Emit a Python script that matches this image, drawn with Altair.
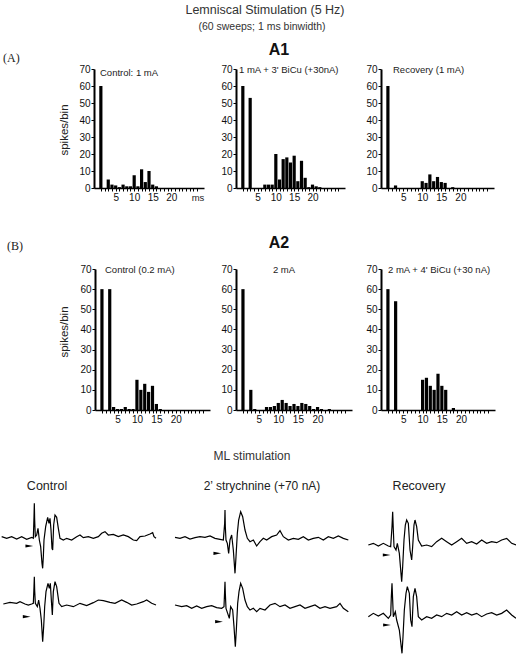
import altair as alt
import pandas as pd

W, H = 516, 655
FONT = "Liberation Sans"

# ---------------- histogram data (spikes per 1-ms bin) ----------------
bins = list(range(1, 28))
a1_control = [60, 0, 5, 2, 1.5, 0.5, 2, 1, 1, 7.5, 1, 11, 3.5, 10, 2, 1, 0, 0, 0, 0, 0, 0, 0, 0, 0, 0, 0]
a1_bicu = [60, 0, 53, 0, 0, 0, 2, 2, 2, 20, 5, 17, 18, 15, 19, 4, 16, 6, 0.5, 2, 1, 0.5, 0, 0, 0, 0, 0]
a1_recovery = [60, 0, 1.5, 0, 0, 0, 0, 0, 0, 4, 3, 8, 4, 6.5, 3.5, 3, 0, 0.5, 0, 0, 0, 0, 0, 0, 0, 0, 0]
a2_control = [60, 0, 60, 1.5, 0.5, 0.5, 1.5, 0.5, 0.5, 15, 10, 13, 9, 12, 3, 0.5, 0, 0, 0, 0, 0, 0, 0, 0, 0, 0, 0]
a2_2ma = [60, 0, 10, 0.5, 0, 0, 1.5, 1.5, 2, 3.5, 5, 3.5, 2, 3, 2, 3.5, 3, 2, 0.5, 1.5, 0.5, 0, 0.5, 0, 0, 0, 0]
a2_bicu = [60, 0, 54, 0, 0, 0, 0, 0, 0, 15, 16, 12, 10, 18, 12, 10, 0, 1, 0, 0, 0, 0, 0, 0, 0, 0, 0]
y_ticks = [0, 10, 20, 30, 40, 50, 60, 70]
x_labels = [5, 10, 15, 20]

# ---------------- ML-stimulation traces (digitised samples) ----------------
# time in samples (30 per ms), deflection readings (down = larger)
ctrl_top_t = [5, 20, 35, 50, 65, 80, 95, 100, 102, 103, 104, 106, 110, 114, 118, 122, 126, 128, 130, 132, 137, 143, 147, 150, 153, 156, 158, 161, 165, 170, 175, 180, 190, 200, 215, 230, 240, 250, 265, 280, 295, 305, 315, 325, 340, 355, 370, 385, 400, 410, 420, 435, 450, 458, 462, 468]
ctrl_top_v = [290, 295, 290, 297, 290, 298, 292, 295, 230, 190, 240, 290, 285, 265, 300, 320, 370, 385, 350, 300, 260, 232, 250, 235, 270, 325, 330, 255, 225, 232, 265, 295, 300, 295, 300, 290, 285, 293, 290, 295, 290, 280, 275, 285, 283, 290, 285, 290, 300, 302, 290, 288, 282, 278, 290, 295]
ctrl_bot_t = [10, 30, 50, 60, 75, 85, 95, 100, 102, 103, 104, 106, 112, 116, 120, 124, 128, 131, 134, 138, 144, 148, 151, 154, 157, 160, 165, 170, 177, 185, 200, 220, 240, 260, 280, 295, 310, 330, 345, 365, 380, 395, 410, 430, 440, 455, 468]
ctrl_bot_v = [492, 487, 490, 485, 492, 495, 492, 490, 440, 410, 450, 490, 500, 480, 505, 540, 605, 560, 500, 455, 430, 445, 430, 480, 525, 455, 425, 440, 490, 500, 495, 500, 490, 497, 488, 480, 482, 487, 490, 480, 487, 495, 492, 485, 480, 490, 495]
str_top_t = [525, 540, 555, 570, 585, 600, 615, 630, 645, 660, 670, 674, 675, 676, 678, 682, 686, 690, 695, 700, 705, 708, 712, 716, 722, 728, 735, 742, 750, 760, 770, 780, 790, 800, 815, 830, 840, 850, 865, 880, 895, 910, 925, 940, 955, 970, 985, 1000, 1015, 1030, 1045]
str_top_v = [292, 295, 290, 297, 293, 290, 292, 288, 295, 298, 300, 250, 210, 260, 300, 310, 340, 300, 285, 330, 400, 350, 280, 240, 215, 230, 270, 295, 305, 300, 318, 305, 295, 300, 290, 285, 272, 290, 300, 295, 298, 290, 300, 295, 292, 300, 290, 295, 288, 295, 300]
str_bot_t = [525, 545, 560, 575, 590, 605, 620, 635, 650, 665, 672, 674, 675, 676, 678, 683, 688, 692, 698, 702, 706, 709, 713, 717, 722, 728, 735, 742, 750, 760, 770, 780, 795, 810, 825, 840, 855, 870, 885, 900, 915, 930, 945, 960, 975, 990, 1010, 1020, 1030, 1045]
str_bot_v = [495, 500, 497, 505, 498, 505, 500, 497, 503, 505, 500, 450, 425, 460, 505, 520, 535, 500, 510, 560, 620, 570, 490, 455, 430, 445, 480, 500, 510, 505, 515, 505, 510, 495, 490, 500, 495, 505, 500, 495, 505, 500, 495, 505, 500, 505, 500, 490, 505, 515]
rec_top_t = [1105, 1120, 1135, 1150, 1165, 1172, 1176, 1178, 1180, 1182, 1188, 1192, 1198, 1205, 1208, 1212, 1216, 1220, 1225, 1230, 1235, 1238, 1242, 1245, 1250, 1255, 1265, 1280, 1295, 1310, 1325, 1340, 1355, 1370, 1385, 1400, 1415, 1430, 1445, 1460, 1475, 1490, 1505, 1520, 1535, 1548]
rec_top_v = [315, 310, 318, 310, 318, 320, 260, 215, 270, 320, 330, 310, 340, 425, 380, 300, 255, 240, 250, 330, 360, 320, 255, 240, 260, 300, 318, 315, 320, 305, 295, 305, 315, 305, 295, 310, 305, 312, 300, 310, 305, 308, 300, 295, 310, 315]
rec_bot_t = [1105, 1120, 1135, 1150, 1165, 1172, 1174, 1176, 1178, 1180, 1186, 1190, 1198, 1206, 1209, 1213, 1218, 1222, 1228, 1232, 1236, 1240, 1245, 1250, 1255, 1265, 1280, 1295, 1310, 1325, 1340, 1355, 1370, 1385, 1400, 1415, 1430, 1445, 1460, 1475, 1490, 1505, 1520, 1535, 1548]
rec_bot_v = [530, 520, 528, 520, 535, 525, 470, 430, 480, 530, 515, 540, 570, 640, 590, 510, 460, 440, 460, 540, 560, 470, 445, 470, 530, 540, 530, 535, 525, 530, 520, 525, 515, 525, 518, 525, 520, 530, 522, 518, 525, 520, 510, 525, 535]
# stimulus arrowheads (time sample, reading)
arrow_t = [88, 80, 652, 657, 1160, 1161]
arrow_v = [318, 530, 340, 545, 345, 555]

layers = []


def txt(s, x, y, size=10, weight="normal", font=FONT, align="center", angle=0, color="#222"):
    return alt.Chart(alt.Data(values=[{}])).mark_text(
        text=s, fontSize=size, fontWeight=weight, font=font, align=align,
        baseline="middle", angle=angle, color=color
    ).encode(x=alt.value(x), y=alt.value(y))


def hist(values, x0, x1, y0, y1):
    df = pd.DataFrame({"bin": bins, "count": values})
    lab = "indexof([5,10,15,20], datum.value) >= 0 ? datum.label : ''"
    return alt.Chart(df).mark_bar(color="black", size=3.2).encode(
        x=alt.X("bin:Q",
                scale=alt.Scale(domain=[0.5, 27.5], range=[x0, x1], nice=False, zero=False),
                axis=alt.Axis(orient="bottom", offset=y0 - H, values=bins, labelExpr=lab,
                              title=None, grid=False, labelOverlap=False, labelFlush=False,
                              tickSize=3, tickColor="black", domainColor="black", domainWidth=1.5,
                              labelFont=FONT, labelFontSize=10, labelColor="#111", labelPadding=1)),
        y=alt.Y("count:Q",
                scale=alt.Scale(domain=[0, 70], range=[y0, y1], nice=False),
                axis=alt.Axis(orient="left", offset=-x0, values=y_ticks, title=None, grid=False,
                              tickSize=3, tickColor="black", domainColor="black", domainWidth=2,
                              labelFont=FONT, labelFontSize=10, labelColor="#111", labelPadding=1)),
    )


# A1 row
layers.append(hist(a1_control, 94, 204, 188, 69))
layers.append(hist(a1_bicu, 236, 345, 188, 69))
layers.append(hist(a1_recovery, 381, 494, 188, 69))
# A2 row
layers.append(hist(a2_control, 95, 210, 410, 269))
layers.append(hist(a2_2ma, 236, 352, 410, 269))
layers.append(hist(a2_bicu, 381, 495, 410, 269))


def trace(ts, vs, base, at, av):
    z0 = ts[0]
    df = pd.DataFrame({"t": [(t - z0) / 30 for t in ts], "amp": [(base - v) / 3 for v in vs]})
    da = pd.DataFrame({"t": [(at - z0) / 30], "amp": [(base - av) / 3]})
    px0 = z0 / 3
    py0 = 440 + base / 3
    xs = alt.Scale(domain=[0, 16], range=[px0, px0 + 160], nice=False, zero=False)
    ys = alt.Scale(domain=[-60, 60], range=[py0 + 60, py0 - 60], nice=False, zero=False)
    line = alt.Chart(df).mark_line(color="black", strokeWidth=1.2).encode(
        x=alt.X("t:Q", scale=xs, axis=None), y=alt.Y("amp:Q", scale=ys, axis=None))
    arr = alt.Chart(da).mark_point(shape="M -1 -0.4 L 1 0 L -1 0.4 Z", filled=True, color="black",
                                   opacity=1, size=60).encode(
        x=alt.X("t:Q", scale=xs, axis=None), y=alt.Y("amp:Q", scale=ys, axis=None))
    return [line, arr]


layers += trace(ctrl_top_t, ctrl_top_v, 295, arrow_t[0], arrow_v[0])
layers += trace(ctrl_bot_t, ctrl_bot_v, 490, arrow_t[1], arrow_v[1])
layers += trace(str_top_t, str_top_v, 295, arrow_t[2], arrow_v[2])
layers += trace(str_bot_t, str_bot_v, 500, arrow_t[3], arrow_v[3])
layers += trace(rec_top_t, rec_top_v, 310, arrow_t[4], arrow_v[4])
layers += trace(rec_bot_t, rec_bot_v, 525, arrow_t[5], arrow_v[5])

# text annotations
layers += [
    txt("Lemniscal Stimulation (5 Hz)", 265, 10, size=12.5, color="#333"),
    txt("(60 sweeps; 1 ms binwidth)", 262, 27, size=10.5, color="#333"),
    txt("(A)", 3, 58, size=12, font="Liberation Serif", align="left"),
    txt("A1", 279, 50, size=16, weight="bold", color="#111"),
    txt("(B)", 7, 246, size=12, font="Liberation Serif", align="left"),
    txt("A2", 279, 243, size=16, weight="bold", color="#111"),
    txt("Control: 1 mA", 100, 73, size=9.5, align="left"),
    txt("1 mA + 3' BiCu (+30nA)", 239, 70, size=9.5, align="left"),
    txt("Recovery (1 mA)", 393, 70, size=9.5, align="left"),
    txt("ms", 198, 198, size=9.5),
    txt("Control (0.2 mA)", 105, 270, size=9.5, align="left"),
    txt("2 mA", 284, 270, size=9.5),
    txt("2 mA + 4' BiCu (+30 nA)", 388, 270, size=9.5, align="left"),
    txt("spikes/bin", 65, 130, size=11.5, angle=270),
    txt("spikes/bin", 65, 332, size=11.5, angle=270),
    txt("ML stimulation", 252, 456, size=12, color="#333"),
    txt("Control", 47, 486, size=12.5),
    txt("2\u2019 strychnine (+70 nA)", 262, 486, size=12),
    txt("Recovery", 419, 486, size=12.5),
]

chart = alt.layer(*layers).resolve_scale(x="independent", y="independent").properties(
    width=W, height=H, autosize=alt.AutoSizeParams(type="none"), padding=0, background="white"
).configure_view(strokeWidth=0)

chart.save("out.html", embed_options={"renderer": "svg", "actions": False})
